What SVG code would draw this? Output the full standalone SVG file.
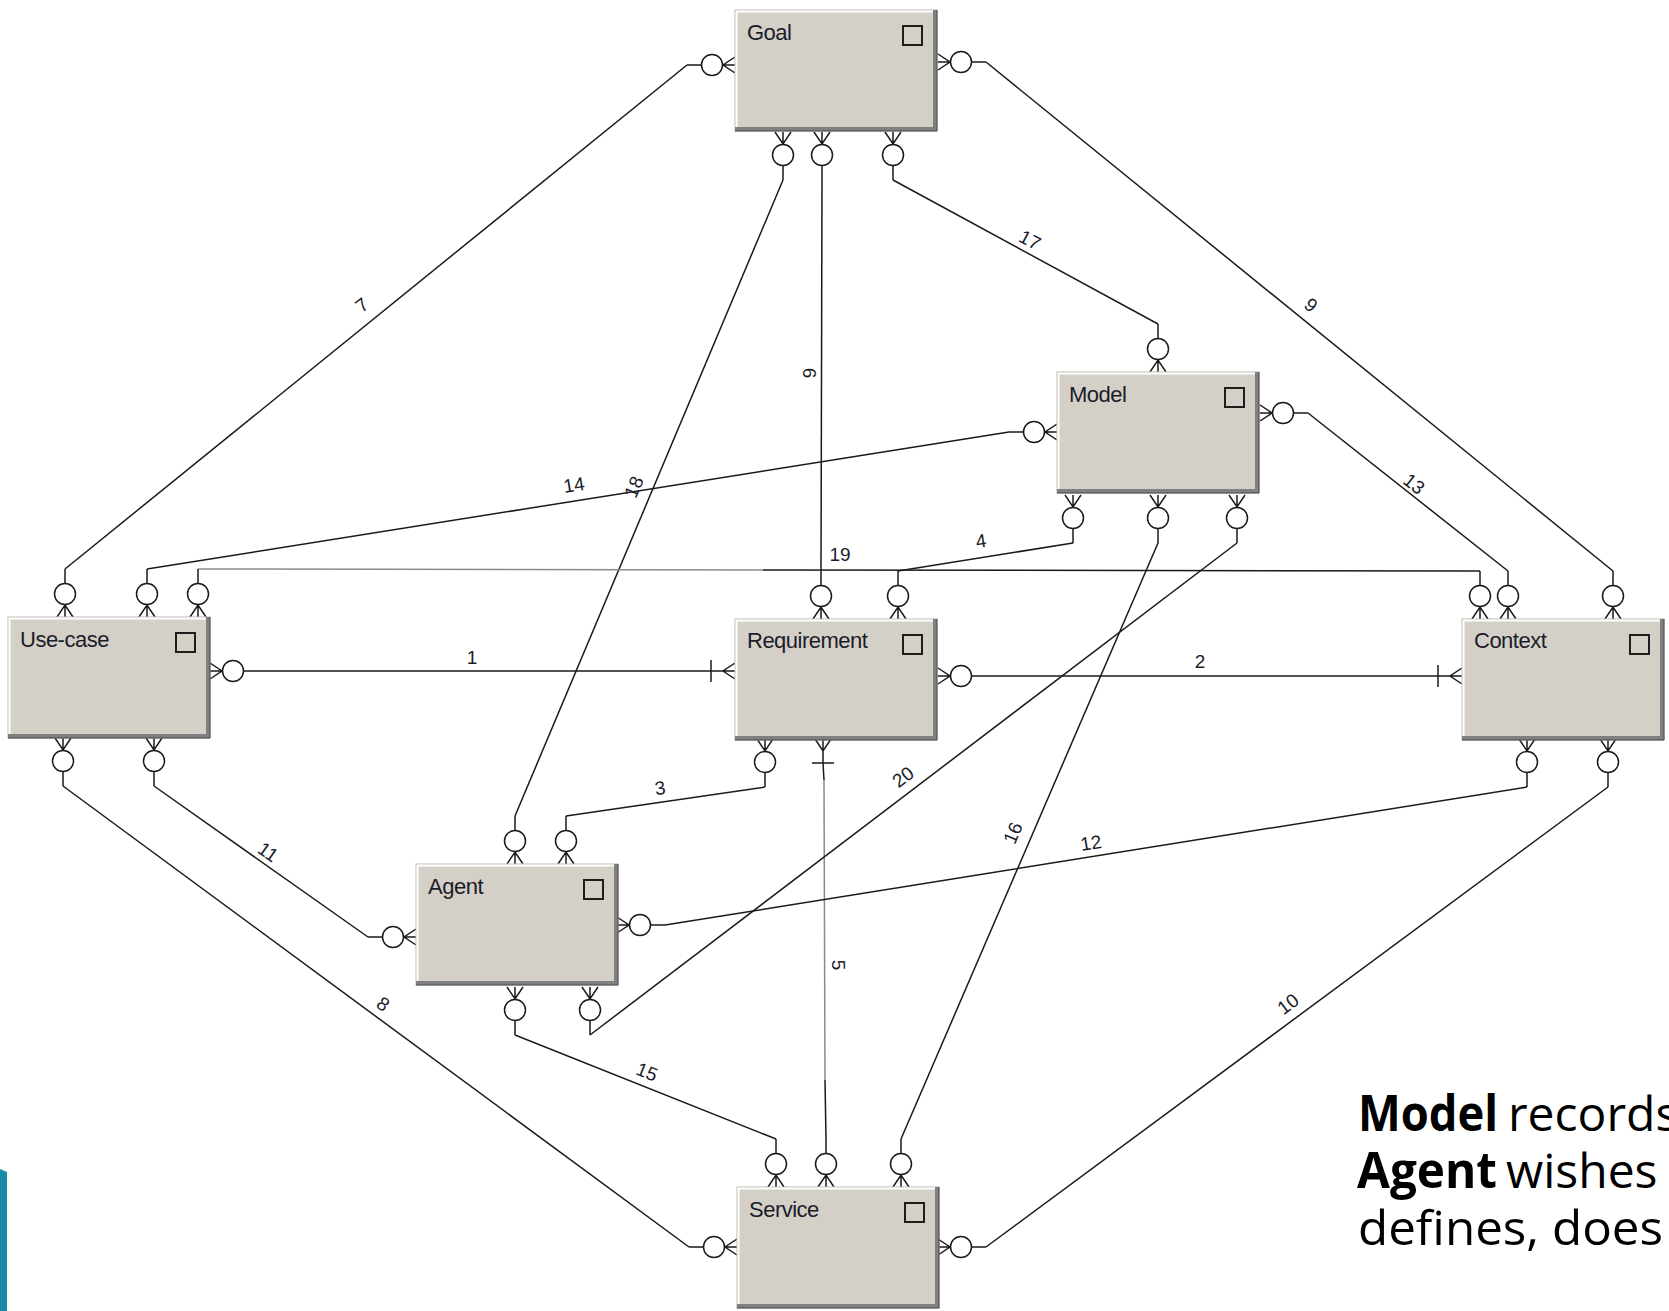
<svg xmlns="http://www.w3.org/2000/svg" width="1669" height="1311" viewBox="0 0 1669 1311">
<style>
.bx{fill:#d4d0c8;stroke:#bdb9b1;stroke-width:1}
.hl{fill:none;stroke:#ffffff;stroke-width:2}
.sh{fill:#808080}
.ic{fill:none;stroke:#1e1e1e;stroke-width:2}
.nm{font-family:"Liberation Sans",Arial,sans-serif;font-size:22px;letter-spacing:-0.5px;fill:#1c1c2a}
.ln{fill:none;stroke:#1a1a1a;stroke-width:1.5}
.lg{fill:none;stroke:#8a8a8a;stroke-width:1.5}
.mk{fill:none;stroke:#1a1a1a;stroke-width:1.5}
.ci{fill:#ffffff;stroke:#1a1a1a;stroke-width:1.5}
.lb{font-family:"Liberation Sans",Arial,sans-serif;font-size:19px;fill:#1c1c2a;text-anchor:middle;dominant-baseline:central}
.nt{font-family:"Open Sans","Noto Sans",sans-serif;font-size:48px;fill:#000}
.nb{font-weight:700;font-size:50px}
</style>
<defs>
<g id="pm"><path class="mk" d="M-8,0 L0,12 L8,0 M0,0 V12"/><circle class="ci" cx="0" cy="23" r="10.5"/><path class="mk" d="M0,33.5 V48"/></g>
<g id="p1"><path class="mk" d="M-8,0 L0,12 L8,0 M0,0 V24 M-11,24 H11"/></g>
<g id="box">
<rect class="bx" x="0" y="0" width="202" height="121"/>
<path class="hl" d="M1.5,117 V1.5 H198"/>
<rect class="sh" x="198" y="0" width="4" height="121"/>
<rect class="sh" x="0" y="117" width="202" height="4"/>
<path d="M202,0 V121 H0" fill="none" stroke="#4a4a4a" stroke-width="1"/>
<rect class="ic" x="168" y="16" width="19" height="19"/>
</g>
</defs>
<rect width="1669" height="1311" fill="#ffffff"/>

<g id="connectors">
<g id="c1"><path class="ln" d="M258,671 H711"/><use href="#pm" transform="translate(210,671) rotate(-90)"/><use href="#p1" transform="translate(735,671) rotate(90)"/></g>
<g id="c2"><path class="ln" d="M986,676 H1438"/><use href="#pm" transform="translate(938,676) rotate(-90)"/><use href="#p1" transform="translate(1462,676) rotate(90)"/></g>
<g id="c3"><path class="ln" d="M765,787 L566,816"/><use href="#pm" transform="translate(765,739)"/><use href="#pm" transform="translate(566,864) rotate(180)"/></g>
<g id="c4"><path class="ln" d="M1073,543 L898,571"/><use href="#pm" transform="translate(1073,495)"/><use href="#pm" transform="translate(898,619) rotate(180)"/></g>
<g id="c5"><path class="ln" d="M823,763 L824,780"/><path class="lg" d="M824,780 L825,1080"/><path class="ln" d="M825,1080 L826,1139"/><use href="#p1" transform="translate(823,739)"/><use href="#pm" transform="translate(826,1187) rotate(180)"/></g>
<g id="c6"><path class="ln" d="M822,180 L821,571"/><use href="#pm" transform="translate(822,132)"/><use href="#pm" transform="translate(821,619) rotate(180)"/></g>
<g id="c7"><path class="ln" d="M687,65 L65,569"/><use href="#pm" transform="translate(735,65) rotate(90)"/><use href="#pm" transform="translate(65,617) rotate(180)"/></g>
<g id="c8"><path class="ln" d="M63,786 L689,1247"/><use href="#pm" transform="translate(63,738)"/><use href="#pm" transform="translate(737,1247) rotate(90)"/></g>
<g id="c9"><path class="ln" d="M986,62 L1613,571"/><use href="#pm" transform="translate(938,62) rotate(-90)"/><use href="#pm" transform="translate(1613,619) rotate(180)"/></g>
<g id="c10"><path class="ln" d="M1608,787 L986,1247"/><use href="#pm" transform="translate(1608,739)"/><use href="#pm" transform="translate(938,1247) rotate(-90)"/></g>
<g id="c11"><path class="ln" d="M154,786 L368,937"/><use href="#pm" transform="translate(154,738)"/><use href="#pm" transform="translate(416,937) rotate(90)"/></g>
<g id="c12"><path class="ln" d="M1527,787 L665,925"/><use href="#pm" transform="translate(1527,739)"/><use href="#pm" transform="translate(617,925) rotate(-90)"/></g>
<g id="c13"><path class="ln" d="M1308,413 L1508,571"/><use href="#pm" transform="translate(1260,413) rotate(-90)"/><use href="#pm" transform="translate(1508,619) rotate(180)"/></g>
<g id="c14"><path class="ln" d="M1009,432 L147,569"/><use href="#pm" transform="translate(1057,432) rotate(90)"/><use href="#pm" transform="translate(147,617) rotate(180)"/></g>
<g id="c15"><path class="ln" d="M515,1035 L776,1139"/><use href="#pm" transform="translate(515,987)"/><use href="#pm" transform="translate(776,1187) rotate(180)"/></g>
<g id="c16"><path class="ln" d="M1158,543 L901,1139"/><use href="#pm" transform="translate(1158,495)"/><use href="#pm" transform="translate(901,1187) rotate(180)"/></g>
<g id="c17"><path class="ln" d="M893,180 L1158,324"/><use href="#pm" transform="translate(893,132)"/><use href="#pm" transform="translate(1158,372) rotate(180)"/></g>
<g id="c18"><path class="ln" d="M783,180 L515,816"/><use href="#pm" transform="translate(783,132)"/><use href="#pm" transform="translate(515,864) rotate(180)"/></g>
<g id="c19"><path class="lg" d="M198,569 L763,570"/><path class="ln" d="M763,570 L1480,571"/><use href="#pm" transform="translate(198,617) rotate(180)"/><use href="#pm" transform="translate(1480,619) rotate(180)"/></g>
<g id="c20"><path class="ln" d="M1237,543 L590,1035"/><use href="#pm" transform="translate(1237,495)"/><use href="#pm" transform="translate(590,987)"/></g>
</g>

<g id="labels">
<text class="lb" x="472" y="657">1</text>
<text class="lb" x="1200" y="661">2</text>
<text class="lb" transform="translate(660,788) rotate(-8)">3</text>
<text class="lb" transform="translate(981,541) rotate(-9)">4</text>
<text class="lb" transform="translate(838,965) rotate(90)">5</text>
<text class="lb" transform="translate(809,373) rotate(90)">6</text>
<text class="lb" transform="translate(362,305) rotate(-39)">7</text>
<text class="lb" transform="translate(383,1004) rotate(36)">8</text>
<text class="lb" transform="translate(1311,305) rotate(39)">9</text>
<text class="lb" transform="translate(1288,1004) rotate(-37)">10</text>
<text class="lb" transform="translate(268,852) rotate(35)">11</text>
<text class="lb" transform="translate(1091,843) rotate(-9)">12</text>
<text class="lb" transform="translate(1414,484) rotate(38)">13</text>
<text class="lb" transform="translate(574,485) rotate(-9)">14</text>
<text class="lb" transform="translate(647,1072) rotate(22)">15</text>
<text class="lb" transform="translate(1013,833) rotate(-67)">16</text>
<text class="lb" transform="translate(1030,240) rotate(28)">17</text>
<text class="lb" transform="translate(634,487) rotate(-67)">18</text>
<text class="lb" x="840" y="554">19</text>
<text class="lb" transform="translate(903,777) rotate(-37)">20</text>
</g>

<g id="goal"><use href="#box" transform="translate(735,10)"/><text class="nm" x="747" y="40">Goal</text></g>
<g id="model"><use href="#box" transform="translate(1057,372)"/><text class="nm" x="1069" y="402">Model</text></g>
<g id="use-case"><use href="#box" transform="translate(8,617)"/><text class="nm" x="20" y="647">Use-case</text></g>
<g id="requirement"><use href="#box" transform="translate(735,619)"/><text class="nm" x="747" y="648">Requirement</text></g>
<g id="context"><use href="#box" transform="translate(1462,619)"/><text class="nm" x="1474" y="648">Context</text></g>
<g id="agent"><use href="#box" transform="translate(416,864)"/><text class="nm" x="428" y="894">Agent</text></g>
<g id="service"><use href="#box" transform="translate(737,1187)"/><text class="nm" x="749" y="1217">Service</text></g>

<polygon points="0,1169 7,1172 7,1311 0,1311" fill="#168aa7"/>

<g id="note">
<text class="nt nb" x="1358" y="1131" textLength="140" lengthAdjust="spacingAndGlyphs">Model</text>
<text class="nt" x="1508" y="1131">records</text>
<text class="nt nb" x="1357" y="1188" textLength="140" lengthAdjust="spacingAndGlyphs">Agent</text>
<text class="nt" x="1506" y="1188">wishes</text>
<text class="nt" x="1358" y="1245" textLength="305" lengthAdjust="spacingAndGlyphs">defines, does</text>
</g>
</svg>
